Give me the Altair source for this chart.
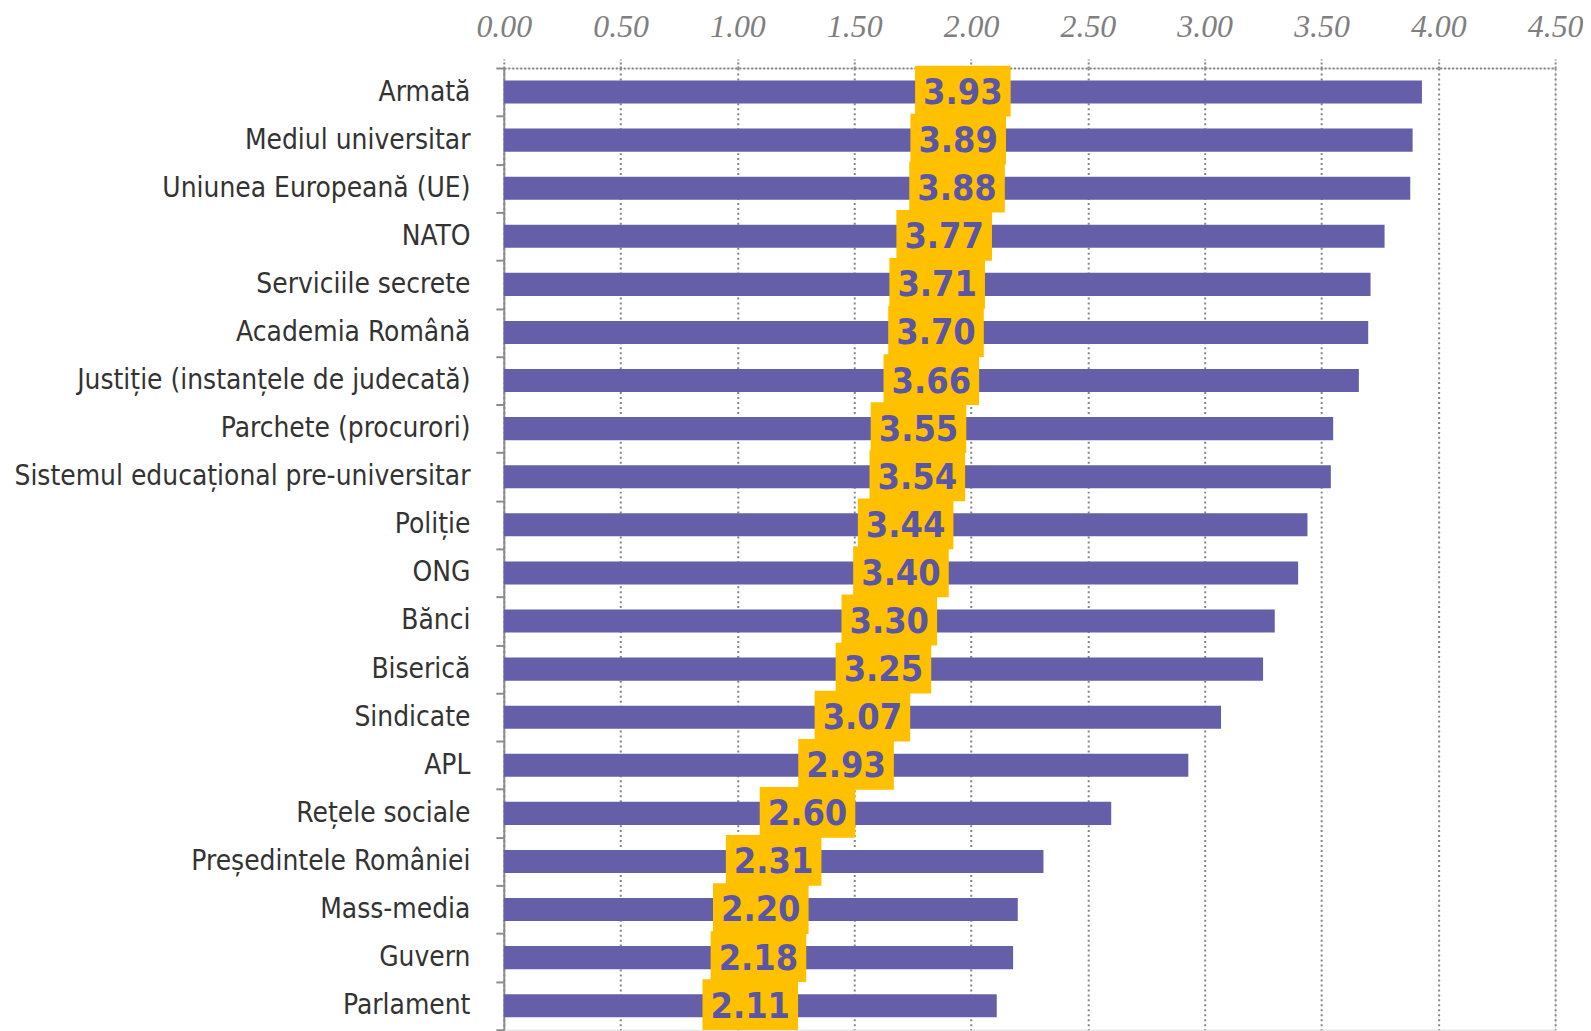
import altair as alt
import pandas as pd

categories = [
    "Armată", "Mediul universitar", "Uniunea Europeană (UE)", "NATO",
    "Serviciile secrete", "Academia Română", "Justiție (instanțele de judecată)",
    "Parchete (procurori)", "Sistemul educațional pre-universitar", "Poliție",
    "ONG", "Bănci", "Biserică", "Sindicate", "APL", "Rețele sociale",
    "Președintele României", "Mass-media", "Guvern", "Parlament",
]
values = [3.93, 3.89, 3.88, 3.77, 3.71, 3.70, 3.66, 3.55, 3.54, 3.44,
          3.40, 3.30, 3.25, 3.07, 2.93, 2.60, 2.31, 2.20, 2.18, 2.11]
x_ticks = [0.0, 0.5, 1.0, 1.5, 2.0, 2.5, 3.0, 3.5, 4.0, 4.5]

df = pd.DataFrame({"cat": categories, "value": values})
df["mid"] = df["value"] / 2
df["label"] = df["value"].map(lambda v: f"{v:.2f}")

BAR = "#655FA9"
YEL = "#FFC000"
TXT = "#5B55A6"
GRID = "#858585"

y_enc = alt.Y(
    "cat:N", sort=categories, title=None,
    scale=alt.Scale(paddingInner=0, paddingOuter=0),
    axis=alt.Axis(
        tickBand="extent", ticks=True, tickSize=8, tickColor="#8C8C8C", tickWidth=2,
        domain=True, domainColor="#8C8C8C", domainWidth=2,
        labelFont="DejaVu Sans Condensed", labelFontSize=28, labelColor="#333333",
        labelPadding=26, labelLimit=600, grid=False,
        minExtent=490, maxExtent=490,
    ),
)

x_enc = alt.X(
    "value:Q", title=None,
    scale=alt.Scale(domain=[0, 4.5], nice=False, zero=True),
    axis=alt.Axis(
        orient="top", values=x_ticks, format=".2f", labelFlush=False,
        labelFont="Liberation Serif", labelFontStyle="italic", labelFontSize=32,
        labelColor="#7F7F7F", labelPadding=16,
        ticks=True, tickSize=9, tickColor=GRID, tickWidth=2, tickDash=[2, 2],
        domain=True, domainColor=GRID, domainWidth=2, domainDash=[2, 2],
        grid=True, gridColor=GRID, gridWidth=2, gridDash=[2, 3],
        minExtent=51, maxExtent=51,
    ),
)

base = alt.Chart(df)

bars = base.mark_bar(color=BAR, height=alt.RelativeBandSize(0.48)).encode(
    y=y_enc, x=x_enc,
)

boxes = base.mark_tick(color=YEL, thickness=96, size=51, opacity=1, yOffset=-1).encode(
    y=alt.Y("cat:N", sort=categories),
    x=alt.X("mid:Q"),
)

texts = base.mark_text(
    font="DejaVu Sans Condensed", fontWeight="bold", fontSize=36, color=TXT,
    baseline="middle", align="center", dy=1,
).encode(
    y=alt.Y("cat:N", sort=categories),
    x=alt.X("mid:Q"),
    text="label:N",
)

chart = (bars + boxes + texts).properties(
    width=1056, height=966,
    padding={"left": 5, "top": 0, "right": 0, "bottom": 0},
).configure_view(stroke=None).configure(background="white")

chart.save("out.html", embed_options={"renderer": "svg", "actions": False})
